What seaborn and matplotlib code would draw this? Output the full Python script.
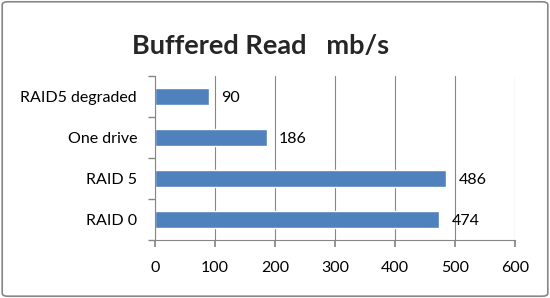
import matplotlib
matplotlib.use("Agg")
import matplotlib.pyplot as plt
import seaborn as sns
import pandas as pd
from matplotlib.patches import FancyBboxPatch

categories = ["RAID5 degraded", "One drive", "RAID 5", "RAID 0"]
values = [90, 186, 486, 474]
xticks = [0, 100, 200, 300, 400, 500, 600]
title = "Buffered Read   mb/s"

sns.set_theme(style="white")
plt.rcParams['font.family'] = ['Lato', 'DejaVu Sans']

df = pd.DataFrame({"cat": categories, "val": values})

fig = plt.figure(figsize=(5.5, 2.98), dpi=100)
ax = fig.add_axes([0.282, 0.195, 0.654, 0.55])
sns.barplot(data=df, y="cat", x="val", order=categories, color="#4F81BD",
            width=0.4, saturation=1, ax=ax, orient="h")

grid_c = "#868686"
fs = 11.5
ax.set_xlim(0, 600)
ax.set_xticks(xticks)
ax.set_xticklabels([str(t) for t in xticks], fontsize=fs, color="black")
ax.set_ylim(len(categories) - 0.5, -0.5)
ax.set_yticks(range(len(categories)))
ax.set_yticklabels(categories, fontsize=fs, color="black")
ax.set_xlabel("")
ax.set_ylabel("")
ax.xaxis.grid(True, color=grid_c, linewidth=0.8)
ax.set_axisbelow(True)
for s in ["top", "right"]:
    ax.spines[s].set_visible(False)
for s in ["left", "bottom"]:
    ax.spines[s].set_color(grid_c)
    ax.spines[s].set_linewidth(0.8)
ax.tick_params(axis="x", which="major", length=5, color=grid_c, direction="out", pad=10, bottom=True)
ax.tick_params(axis="y", which="major", length=0, pad=13, left=False)
# category boundary ticks on the y axis
ax.set_yticks([i - 0.5 for i in range(len(categories) + 1)], minor=True)
ax.tick_params(axis="y", which="minor", length=5, color=grid_c, direction="out", left=True)

for i, v in enumerate(values):
    ax.annotate(str(v), (v, i), xytext=(9, -1), textcoords="offset points",
                va="center", ha="left", fontsize=fs, color="black")

fig.text(0.474, 0.845, title, ha="center", va="center", fontsize=19.5, fontweight="bold")

border = FancyBboxPatch((0.004, 0.006), 0.992, 0.988, boxstyle="round,pad=0,rounding_size=0.01",
                        transform=fig.transFigure, fill=False, edgecolor="#868686", linewidth=1.2)
fig.patches.append(border)

fig.savefig("out.png", dpi=100)
